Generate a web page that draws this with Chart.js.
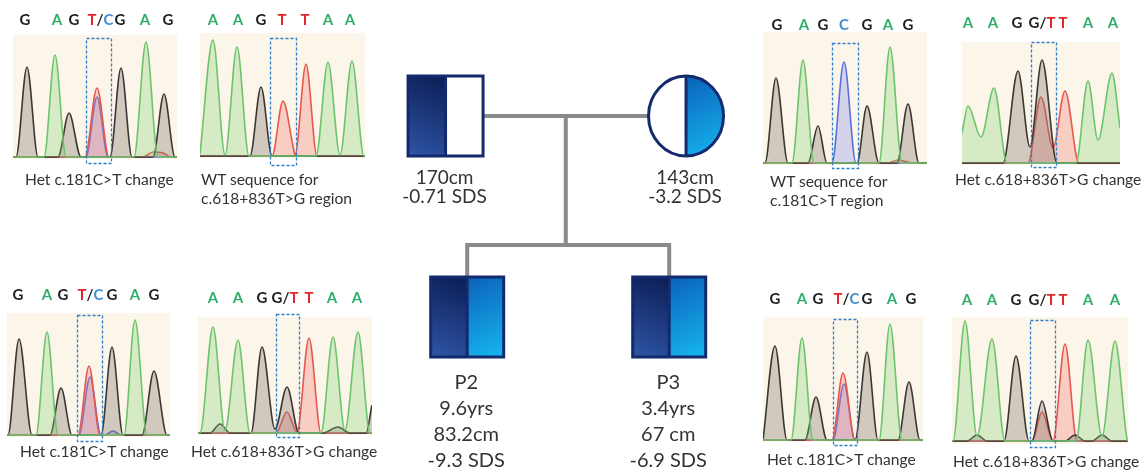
<!DOCTYPE html>
<html>
<head>
<meta charset="utf-8">
<script src="https://cdn.jsdelivr.net/npm/chart.js@4.4.0/dist/chart.umd.min.js"></script>
<style>
    body {
        margin: 0;
        width: 1148px;
        height: 476px;
        overflow: hidden;
        position: relative;
        background: #fff;
        font-family: Lato, "Open Sans", sans-serif;
    }
    canvas {
        position: absolute;
    }
    .cap {
        position: absolute;
        font-size: 15.6px;
        line-height: 19px;
        color: #333;
        white-space: nowrap;
    }
</style>
</head>
<body>
<canvas id="c1"></canvas>
<canvas id="c2"></canvas>
<canvas id="c3"></canvas>
<canvas id="c4"></canvas>
<canvas id="c5"></canvas>
<canvas id="c6"></canvas>
<canvas id="c7"></canvas>
<canvas id="c8"></canvas>
<canvas id="ped"></canvas>

<div class="cap" style="left:25px;top:170px">Het c.181C&gt;T change</div>
<div class="cap" style="left:201px;top:170px">WT sequence for<br>c.618+836T&gt;G region</div>
<div class="cap" style="left:770px;top:172px">WT sequence for<br>c.181C&gt;T region</div>
<div class="cap" style="left:955px;top:170px">Het c.618+836T&gt;G change</div>
<div class="cap" style="left:20px;top:442px">Het c.181C&gt;T change</div>
<div class="cap" style="left:191px;top:442px">Het c.618+836T&gt;G change</div>
<div class="cap" style="left:767px;top:450px">Het c.181C&gt;T change</div>
<div class="cap" style="left:953px;top:452px">Het c.618+836T&gt;G change</div>

<script>
// ---- chromatogram data: base calls, their scan positions, traces per dye [scan, signal]
const p1Bases = ["G", "A", "G", "T/C", "G", "A", "G"];
const p1BasePos = [12, 44, 61, 87, 107, 132, 155];
const p1G = [[0,0],[3,0],[14,90],[25,0],[45,0],[56,44],[68,0],[97,0],[108,89],[119,0],[140,0],[151,63],[162,0],[164,0]];
const p1A = [[0,0],[31,0],[42,102],[53,0],[121,0],[133,115],[145,0],[164,0]];
const p1T = [[0,0],[72,0],[84,69],[96,0],[130,0],[140,5],[150,4],[158,0],[164,0]];
const p1C = [[0,0],[73,0],[84,60],[95,0],[164,0]];
const p1Box = [73, 98, 119, -6];

const p2Bases = ["A", "A", "G", "T", "T", "A", "A"];
const p2BasePos = [13, 38, 61, 82, 105, 128, 150];
const p2G = [[0,0],[50,0],[61,69],[72,0],[165,0]];
const p2A = [[0,2],[13,116],[25,1],[37,109],[49,0],[116,0],[128,94],[140,1],[152,95],[164,0],[165,0]];
const p2T = [[0,0],[72,0],[83,55],[93,10],[95,1],[106,92],[117,0],[165,0]];
const p2C = [[0,0],[165,0]];
const p2Box = [70, 96, 118, -9];

const p3Bases = ["G", "A", "G", "C", "G", "A", "G"];
const p3BasePos = [14, 41, 60, 81, 104, 125, 145];
const p3G = [[0,0],[2,0],[13,85],[25,0],[45,0],[55,37],[64,0],[94,0],[104,57],[116,0],[134,0],[145,59],[156,0],[164,0]];
const p3A = [[0,0],[29,0],[40,103],[51,0],[116,0],[127,116],[139,0],[164,0]];
const p3T = [[0,0],[125,0],[135,3],[150,0],[164,0]];
const p3C = [[0,0],[69,0],[81,101],[93,0],[164,0]];
const p3Box = [69, 95, 120, -5];

const p4Bases = ["A", "A", "G", "G/T", "T", "A", "A"];
const p4BasePos = [6, 31, 55, 80, 101, 126, 151];
const p4G = [[0,0],[41,0],[56,92],[68,16],[80,103],[95,0],[158,0]];
const p4A = [[0,30],[6,57],[19,26],[32,75],[45,0],[114,0],[126,82],[136,23],[150,90],[158,35]];
const p4T = [[0,0],[66,0],[79,66],[91,15],[103,72],[117,0],[158,0]];
const p4C = [[0,0],[158,0]];
const p4Box = [69, 94, 121, -4];

const p5Bases = ["G", "A", "G", "T/C", "G", "A", "G"];
const p5BasePos = [11, 40, 56, 83, 105, 128, 147];
const p5G = [[0,0],[1,0],[12,96],[25,0],[43,0],[54,47],[65,0],[94,0],[105,88],[116,0],[135,0],[147,64],[160,0],[163,0]];
const p5A = [[0,0],[29,0],[40,103],[51,0],[117,0],[128,115],[140,0],[163,0]];
const p5T = [[0,0],[71,0],[82,69],[93,0],[163,0]];
const p5C = [[0,0],[72,0],[83,58],[94,0],[98,0],[106,4],[114,0],[163,0]];
const p5Box = [70, 95, 120, -6];

const p6Bases = ["A", "A", "G", "G/T", "T", "A", "A"];
const p6BasePos = [15, 40, 64, 87, 111, 134, 159];
const p6G = [[0,0],[12,0],[22,9],[32,0],[53,0],[64,86],[77,4],[89,46],[101,0],[125,0],[140,6],[152,0],[168,0],[174,28]];
const p6A = [[0,0],[2,0],[15,106],[27,3],[40,93],[52,0],[123,0],[135,96],[147,3],[160,101],[172,0],[174,0]];
const p6T = [[0,0],[78,0],[89,21],[99,1],[111,95],[123,0],[174,0]];
const p6C = [[0,0],[174,0]];
const p6Box = [78, 101, 119, -4];

const p7Bases = ["G", "A", "G", "T/C", "G", "A", "G"];
const p7BasePos = [12, 39, 55, 83, 104, 129, 148];
const p7G = [[0,0],[12,94],[24,0],[42,0],[53,43],[64,0],[92,0],[104,88],[115,0],[135,0],[146,58],[157,0],[160,0]];
const p7A = [[0,0],[28,0],[39,102],[50,0],[116,0],[127,116],[139,0],[160,0]];
const p7T = [[0,0],[69,0],[80,67],[92,0],[160,0]];
const p7C = [[0,0],[70,0],[81,56],[92,0],[160,0]];
const p7Box = [70, 94, 121, -5];

const p8Bases = ["A", "A", "G", "G/T", "T", "A", "A"];
const p8BasePos = [15, 40, 64, 90, 111, 136, 163];
const p8G = [[0,0],[15,0],[25,6],[35,0],[52,0],[64,85],[77,0],[80,0],[90,40],[101,0],[113,0],[123,6],[133,0],[140,0],[150,6],[160,0],[176,0]];
const p8A = [[0,0],[1,0],[13,120],[25,5],[40,102],[53,0],[124,0],[136,101],[150,5],[163,100],[175,2],[176,0]];
const p8T = [[0,0],[80,0],[90,29],[101,0],[113,97],[125,0],[176,0]];
const p8C = [[0,0],[176,0]];
const p8Box = [78, 103, 121, -6];

// ---- pedigree data
const members = ["Father", "Mother", "P2", "P3"];
const memberPos = [1, 2, 1.09, 1.93];
const memberGen = [1, 1, 2, 2];
const memberSex = ["M", "F", "M", "M"];
const memberLabels = [
    ["170cm", "-0.71 SDS"],
    ["143cm", "-3.2 SDS"],
    ["P2", "9.6yrs", "83.2cm", "-9.3 SDS"],
    ["P3", "3.4yrs", "67 cm", "-6.9 SDS"],
];

const dye = {
    G: { line: "#3b3634", fill: "rgba(125,115,105,0.34)", text: "#1e1e1e" },
    A: { line: "#6cc46c", fill: "rgba(125,210,115,0.30)", text: "#2fae6a" },
    T: { line: "#e5574f", fill: "rgba(240,120,110,0.32)", text: "#e3262d" },
    C: { line: "#5b6fdc", fill: "rgba(130,140,230,0.32)", text: "#3f8fd2" },
    "/": { text: "#2a2a2a" },
};

const PAD_TOP = 34;
const PAD_BOTTOM = 12;

const tracePlugin = {
    id: "trace",
    beforeDraw(chart) {
        const a = chart.chartArea;
        const ctx = chart.ctx;
        ctx.save();
        ctx.fillStyle = "#fcf5ea";
        ctx.fillRect(a.left, a.top, a.right - a.left, a.bottom - a.top);
        ctx.restore();
    },
    afterDraw(chart) {
        const o = chart.options.plugins.trace;
        const xs = chart.scales.x;
        const ys = chart.scales.y;
        const ctx = chart.ctx;
        ctx.save();

        // highlighted base
        const b = o.box;
        const x0 = xs.getPixelForValue(b[0]);
        const x1 = xs.getPixelForValue(b[1]);
        const y0 = ys.getPixelForValue(b[2]);
        const y1 = ys.getPixelForValue(b[3]);
        ctx.setLineDash([3, 2]);
        ctx.lineWidth = 1.3;
        ctx.strokeStyle = "#2f7fc8";
        ctx.strokeRect(x0 + 0.5, y0 + 0.5, x1 - x0, y1 - y0);
        ctx.setLineDash([]);

        // base calls
        ctx.font = "bold 15px Lato, 'Open Sans', sans-serif";
        ctx.textBaseline = "middle";
        ctx.textAlign = "left";
        const ly = ys.getPixelForValue(o.letterY);
        o.bases.forEach((s, i) => {
            const cx = xs.getPixelForValue(o.basePos[i]);
            const w = ctx.measureText(s).width;
            let x = cx - w / 2;
            for (const ch of s) {
                ctx.fillStyle = dye[ch].text;
                ctx.fillText(ch, x, ly);
                x += ctx.measureText(ch).width;
            }
        });
        ctx.restore();
    },
};

function makeTrace(id, left, top, width, height, baseline, bases, basePos, tr, box, letterY) {
    const canvas = document.getElementById(id);
    canvas.width = width;
    canvas.height = height + PAD_TOP + PAD_BOTTOM;
    canvas.style.left = left + "px";
    canvas.style.top = top - PAD_TOP + "px";

    const datasets = ["A", "G", "T", "C"].map((k) => ({
        label: k,
        data: tr[k].map((p) => ({ x: p[0], y: p[1] })),
        borderColor: dye[k].line,
        backgroundColor: dye[k].fill,
        fill: "origin",
        borderWidth: 1.6,
        pointRadius: 0,
        cubicInterpolationMode: "monotone",
    }));

    new Chart(canvas, {
        type: "line",
        data: { datasets },
        options: {
            responsive: false,
            animation: false,
            devicePixelRatio: 1,
            layout: { padding: { top: PAD_TOP, bottom: PAD_BOTTOM, left: 0, right: 0 } },
            scales: {
                x: { type: "linear", display: false, min: 0, max: width },
                y: { display: false, min: -(top + height - baseline), max: baseline - top },
            },
            plugins: {
                legend: { display: false },
                tooltip: { enabled: false },
                trace: { bases, basePos, box, letterY },
            },
        },
        plugins: [tracePlugin],
    });
}

makeTrace("c1", 13, 35, 164, 124, 157, p1Bases, p1BasePos, { G: p1G, A: p1A, T: p1T, C: p1C }, p1Box, 137);
makeTrace("c2", 200, 33, 165, 125, 156, p2Bases, p2BasePos, { G: p2G, A: p2A, T: p2T, C: p2C }, p2Box, 136);
makeTrace("c3", 763, 32, 164, 133, 163, p3Bases, p3BasePos, { G: p3G, A: p3A, T: p3T, C: p3C }, p3Box, 138);
makeTrace("c4", 962, 42, 158, 123, 163, p4Bases, p4BasePos, { G: p4G, A: p4A, T: p4T, C: p4C }, p4Box, 140);
makeTrace("c5", 7, 313, 163, 124, 435, p5Bases, p5BasePos, { G: p5G, A: p5A, T: p5T, C: p5C }, p5Box, 140);
makeTrace("c6", 198, 317, 174, 118, 433, p6Bases, p6BasePos, { G: p6G, A: p6A, T: p6T, C: p6C }, p6Box, 135);
makeTrace("c7", 763, 317, 160, 125, 440, p7Bases, p7BasePos, { G: p7G, A: p7A, T: p7T, C: p7C }, p7Box, 141);
makeTrace("c8", 952, 317, 176, 127, 441, p8Bases, p8BasePos, { G: p8G, A: p8A, T: p8T, C: p8C }, p8Box, 141);

// ---- pedigree
const pedPlugin = {
    id: "ped",
    beforeDatasetsDraw(chart) {
        const pts = chart.getDatasetMeta(0).data;
        const ctx = chart.ctx;
        const xs = chart.scales.x;
        const f = pts[0];
        const m = pts[1];
        const midX = xs.getPixelForValue((memberPos[0] + memberPos[1]) / 2);
        const kids = pts.slice(2);
        const sibY = kids[0].y - 72;
        ctx.save();
        ctx.strokeStyle = "#8a8a8a";
        ctx.lineWidth = 4;
        ctx.beginPath();
        ctx.moveTo(f.x, f.y);
        ctx.lineTo(m.x, m.y);
        ctx.moveTo(midX, f.y);
        ctx.lineTo(midX, sibY);
        ctx.moveTo(kids[0].x - 2, sibY);
        ctx.lineTo(kids[kids.length - 1].x + 2, sibY);
        kids.forEach((k) => {
            ctx.moveTo(k.x, sibY);
            ctx.lineTo(k.x, k.y - 40);
        });
        ctx.stroke();
        ctx.restore();
    },
    afterDatasetsDraw(chart) {
        const pts = chart.getDatasetMeta(0).data;
        const ctx = chart.ctx;
        ctx.save();
        pts.forEach((p, i) => {
            const hw = memberGen[i] === 1 ? 37.5 : 36.5;
            const hh = 40;
            const x = p.x;
            const y = p.y;
            const navy = ctx.createLinearGradient(x, y - hh, x - hw, y + hh);
            navy.addColorStop(0, "#0b1c54");
            navy.addColorStop(1, "#2f56a6");
            const sky = ctx.createLinearGradient(x, y - hh, x + hw, y + hh);
            sky.addColorStop(0, "#0b62b8");
            sky.addColorStop(1, "#16b6f2");
            const affectedLeft = memberSex[i] === "M";
            const affectedRight = i !== 0;

            ctx.beginPath();
            if (memberSex[i] === "F") {
                ctx.ellipse(x, y, hw, hh, 0, 0, Math.PI * 2);
            } else {
                ctx.rect(x - hw, y - hh, hw * 2, hh * 2);
            }
            ctx.save();
            ctx.clip();
            ctx.fillStyle = affectedLeft ? navy : "#fff";
            ctx.fillRect(x - hw - 2, y - hh - 2, hw + 2, hh * 2 + 4);
            ctx.fillStyle = affectedRight ? sky : "#fff";
            ctx.fillRect(x, y - hh - 2, hw + 2, hh * 2 + 4);
            ctx.restore();
            ctx.lineWidth = 3;
            ctx.strokeStyle = "#132a6e";
            ctx.stroke();
            ctx.beginPath();
            ctx.moveTo(x, y - hh);
            ctx.lineTo(x, y + hh);
            ctx.stroke();

            // labels
            ctx.fillStyle = "#333";
            ctx.textAlign = "center";
            ctx.textBaseline = "middle";
            const gen1 = memberGen[i] === 1;
            ctx.font = (gen1 ? "19px" : "20px") + " Lato, 'Open Sans', sans-serif";
            const first = gen1 ? 62 : 66;
            const step = gen1 ? 19 : 26;
            memberLabels[i].forEach((t, j) => {
                ctx.fillText(t, x - 1, y + first + j * step);
            });
        });
        ctx.restore();
    },
};

(function () {
    const canvas = document.getElementById("ped");
    canvas.width = 360;
    canvas.height = 476;
    canvas.style.left = "390px";
    canvas.style.top = "0px";
    new Chart(canvas, {
        type: "scatter",
        data: {
            datasets: [
                {
                    label: "family",
                    data: members.map((n, i) => ({ x: memberPos[i], y: memberGen[i] })),
                    pointRadius: 0,
                },
            ],
        },
        options: {
            responsive: false,
            animation: false,
            devicePixelRatio: 1,
            layout: { padding: 0 },
            scales: {
                x: { type: "linear", display: false, min: 0.769, max: 2.266 },
                y: { display: false, reverse: true, min: 0.423, max: 2.791 },
            },
            plugins: { legend: { display: false }, tooltip: { enabled: false } },
        },
        plugins: [pedPlugin],
    });
})();
</script>
</body>
</html>
